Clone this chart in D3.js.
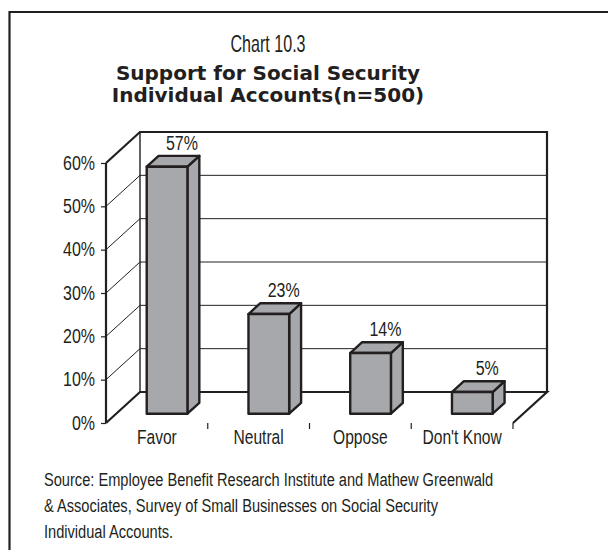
<!DOCTYPE html>
<html>
<head>
<meta charset="utf-8">
<script src="https://cdn.jsdelivr.net/npm/d3@7"></script>
<style>
  html, body { margin: 0; padding: 0; background: #fff; }
  svg { display: block; }
</style>
</head>
<body>
<svg id="chart" width="608" height="550"></svg>
<script>
// ---- data ----
const categories = ["Favor", "Neutral", "Oppose", "Don't Know"];
const values = [57, 23, 14, 5];
const yTicks = [0, 10, 20, 30, 40, 50, 60];
const titleLines = ["Support for Social Security", "Individual Accounts(n=500)"];
const chartNumber = "Chart 10.3";
const sourceLines = [
  "Source: Employee Benefit Research Institute and Mathew Greenwald",
  "& Associates, Survey of Small Businesses on Social Security",
  "Individual Accounts."
];

// ---- look ----
const SANS = "'Liberation Sans', Arial, sans-serif";
const BOLD = "'DejaVu Sans', Verdana, sans-serif";
const barFill = "#a7a8ab";
const ink = "#231f20";

// squeeze a text run horizontally about its own x anchor to get a condensed face
function condense(sel, factor) {
  sel.each(function () {
    const t = d3.select(this);
    const ax = +t.attr("x") || 0;
    const prev = t.attr("transform") || "";
    t.attr("transform", `${prev} translate(${ax},0) scale(${factor},1) translate(${-ax},0)`);
  });
}

const svg = d3.select("#chart");

// outer frame (top and left edges)
svg.append("path")
  .attr("d", "M9.5,550 V12 H608")
  .attr("fill", "none").attr("stroke", ink).attr("stroke-width", 2.2);

// titles
svg.append("text").attr("x", 268).attr("y", 52)
  .attr("text-anchor", "middle").attr("font-family", SANS).attr("font-size", 23)
  .attr("fill", ink).text(chartNumber)
  .call(condense, 0.7);
svg.selectAll("text.title").data(titleLines).join("text")
  .attr("class", "title")
  .attr("x", 268).attr("y", (d, i) => 80 + i * 22)
  .attr("text-anchor", "middle").attr("font-family", BOLD).attr("font-weight", "bold")
  .attr("font-size", 20).attr("fill", ink).text(d => d);

// ---- 3D plot geometry ----
const depth = { dx: 34, dy: -31 };          // offset from front plane to back wall
const off = t => [depth.dx * t, depth.dy * t];
const x = d3.scaleBand().domain(categories).range([106, 513]).padding(0);
const y = d3.scaleLinear().domain([0, 60]).range([423, 163]);
const barW = x.bandwidth() * 0.4;
const tFront = 0.3, tBack = 0.65;

const plot = svg.append("g");
const [bx, by] = off(1);
const x0 = x.range()[0], x1 = x.range()[1];

// back wall gridlines and left wall diagonals
yTicks.forEach(v => {
  if (v > 0 && v < 60) {
    plot.append("line")
      .attr("x1", x0 + bx).attr("x2", x1 + bx)
      .attr("y1", y(v) + by).attr("y2", y(v) + by)
      .attr("stroke", ink).attr("stroke-width", 1);
    plot.append("line")
      .attr("x1", x0).attr("y1", y(v))
      .attr("x2", x0 + bx).attr("y2", y(v) + by)
      .attr("stroke", ink).attr("stroke-width", 1);
  }
});

// back wall left edge
plot.append("line")
  .attr("x1", x0 + bx).attr("x2", x0 + bx)
  .attr("y1", y(60) + by).attr("y2", y(0) + by)
  .attr("stroke", ink).attr("stroke-width", 1.4);

// back wall top/right and floor outline
const line = d3.line();
plot.append("path")
  .attr("d", line([[x0, y(60)], [x0 + bx, y(60) + by], [x1 + bx, y(60) + by], [x1 + bx, y(0) + by]]))
  .attr("fill", "none").attr("stroke", ink).attr("stroke-width", 2.2);
plot.append("path")
  .attr("d", line([[x0, y(0)], [x0 + bx, y(0) + by], [x1 + bx, y(0) + by], [x1, y(0)]]))
  .attr("fill", "none").attr("stroke", ink).attr("stroke-width", 2.2).attr("stroke-linejoin", "miter");

// front axis with ticks
const yAxis = plot.append("g").attr("transform", `translate(${x0},0)`)
  .call(d3.axisLeft(y).tickValues(yTicks).tickFormat(d => d + "%").tickSize(5).tickPadding(6));
yAxis.select(".domain").attr("stroke", ink).attr("stroke-width", 2.2).attr("d", `M0,${y(60)}V${y(0)}`);
yAxis.selectAll(".tick line").attr("stroke", ink).attr("stroke-width", 1.2);
yAxis.selectAll(".tick text").attr("font-family", SANS).attr("font-size", 19.5).attr("fill", ink)
  .call(condense, 0.82);

// category axis
const xAxis = plot.append("g").attr("transform", `translate(0,${y(0)})`)
  .call(d3.axisBottom(x).tickSize(0).tickPadding(7));
xAxis.select(".domain").remove();
xAxis.selectAll(".tick text").attr("font-family", SANS).attr("font-size", 19.5).attr("fill", ink)
  .call(condense, 0.8);
plot.selectAll("line.cat-tick").data(categories).join("line")
  .attr("class", "cat-tick")
  .attr("x1", d => x(d) + x.bandwidth()).attr("x2", d => x(d) + x.bandwidth())
  .attr("y1", y(0)).attr("y2", y(0) + 6)
  .attr("stroke", ink).attr("stroke-width", 1.2);

// bars as boxes
const bars = plot.selectAll("g.bar").data(categories.map((c, i) => ({ c, v: values[i] }))).join("g")
  .attr("class", "bar");
bars.each(function (d) {
  const g = d3.select(this);
  const [fx, fy] = off(tFront), [kx, ky] = off(tBack);
  const sx = kx - fx, sy = ky - fy;
  const left = x(d.c) + (x.bandwidth() - barW) / 2 + fx;
  const right = left + barW;
  const top = y(d.v) + fy, bot = y(0) + fy;
  const frontFace = [[left, top], [right, top], [right, bot], [left, bot]];
  const sideFace = [[right, top], [right + sx, top + sy], [right + sx, bot + sy], [right, bot]];
  const topFace = [[left, top], [left + sx, top + sy], [right + sx, top + sy], [right, top]];
  [sideFace, topFace, frontFace].forEach(face => {
    g.append("path").attr("d", line(face) + "Z")
      .attr("fill", barFill).attr("stroke", ink).attr("stroke-width", 2.4)
      .attr("stroke-linejoin", "round");
  });
  g.append("text")
    .attr("x", (left + right) / 2 + sx + 3).attr("y", top + sy - 6)
    .attr("text-anchor", "middle").attr("font-family", SANS).attr("font-size", 19.5)
    .attr("fill", ink).text(d.v + "%")
    .call(condense, 0.82);
});

// source note
svg.selectAll("text.source").data(sourceLines).join("text")
  .attr("class", "source")
  .attr("x", 44).attr("y", (d, i) => 486 + i * 26)
  .attr("font-family", SANS).attr("font-size", 19).attr("fill", ink).text(d => d)
  .call(condense, 0.77);
</script>
</body>
</html>
